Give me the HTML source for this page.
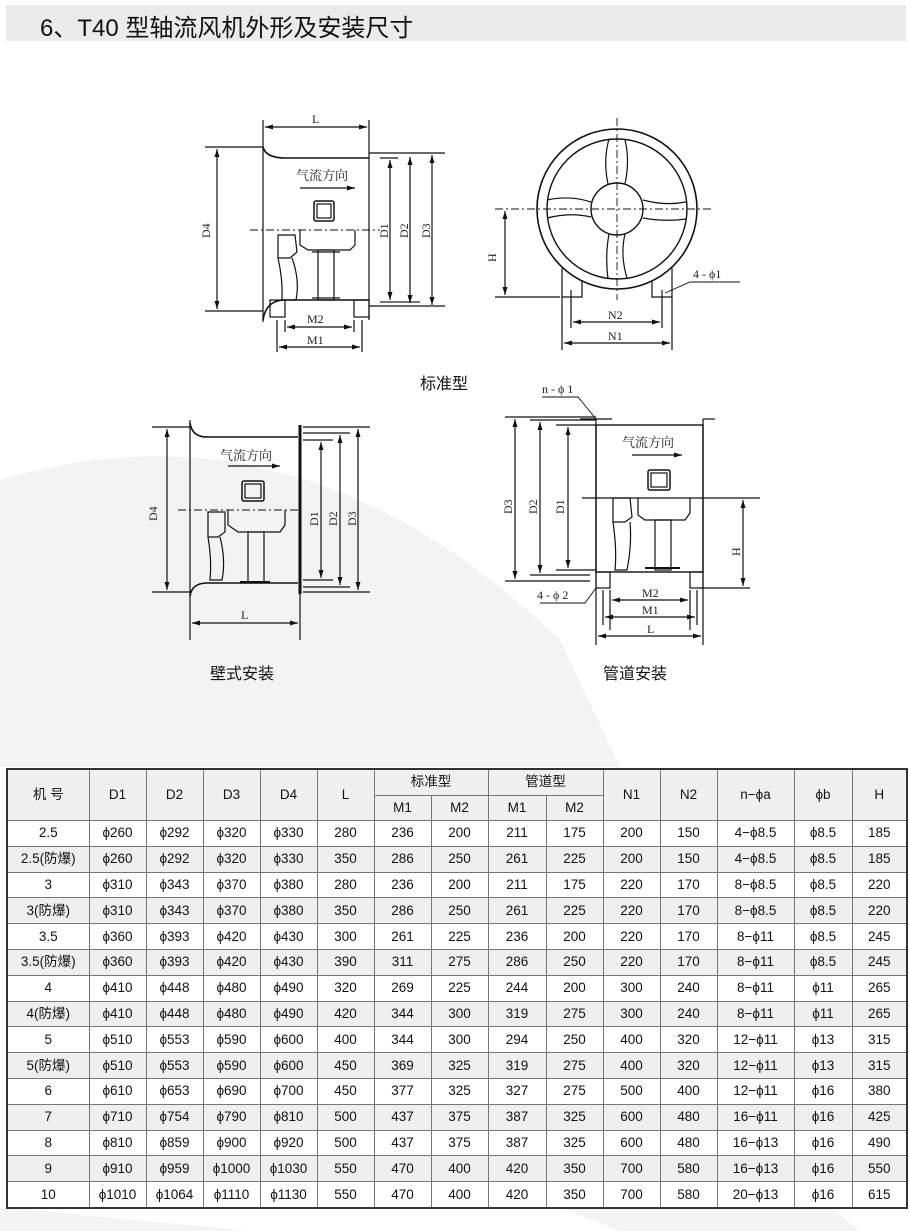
<!DOCTYPE html>
<html><head><meta charset="utf-8">
<style>
html,body{margin:0;padding:0;background:#fff;}
body{width:910px;height:1231px;position:relative;overflow:hidden;font-family:"Liberation Sans","Noto Sans CJK SC",sans-serif;}
#title{position:absolute;left:6px;top:5px;width:900px;height:36px;background:#ebebeb;}
#title span{position:absolute;left:34px;top:3px;font-size:24px;color:#111;letter-spacing:0px;}
svg{position:absolute;left:0;top:0;}
table{position:absolute;left:6px;top:768px;width:900px;border-collapse:collapse;border:2px solid #333;font-size:13.5px;color:#111;table-layout:fixed;}
td{border:1px solid #777;text-align:center;padding:0;height:24.8px;line-height:16px;white-space:nowrap;overflow:hidden;}
thead td{background:#f0f0f0;height:24.5px;}
tbody tr:nth-child(even) td{background:#efefef;}
</style></head><body>
<svg width="910" height="1231" viewBox="0 0 910 1231">
<path d="M0 480 Q300 390 560 640 L620 767 L0 767 Z" fill="#f3f3f3"/>
<path d="M0 1207 L0 1231 L250 1231 Z" fill="#f4f4f4"/>
<path d="M560 1207 L620 1231 L860 1231 L830 1207 Z" fill="#f4f4f4"/>
<g stroke="#111" fill="none" stroke-width="1.2" font-family="Liberation Serif,'Noto Serif CJK SC',serif">
<!-- Drawing 1 -->
<line x1="263" y1="120" x2="263" y2="322"/>
<line x1="369" y1="120" x2="369" y2="320"/>
<path d="M263 147 Q266 158 285 158 L369 158" stroke-width="1.6"/>
<path d="M263 320 Q266 300 285 300 L369 300" stroke-width="1.6"/>
<line x1="265" y1="127" x2="367" y2="127"/>
<line x1="205" y1="147" x2="263" y2="147"/><line x1="205" y1="311" x2="263" y2="311"/>
<line x1="217" y1="149" x2="217" y2="309"/>
<line x1="369" y1="153" x2="445" y2="153"/><line x1="380" y1="158" x2="398" y2="158"/>
<line x1="369" y1="306" x2="445" y2="306"/><line x1="380" y1="302" x2="420" y2="302" stroke="#777" stroke-width="2"/>
<line x1="390" y1="160" x2="390" y2="300"/><line x1="410" y1="157" x2="410" y2="303"/><line x1="432" y1="155" x2="432" y2="305"/>
<line x1="300" y1="188" x2="355" y2="188"/>
<rect x="314" y="201" width="20" height="20" rx="2" stroke-width="1.5"/><rect x="317" y="204" width="14" height="14"/>
<line x1="250" y1="230" x2="380" y2="230" stroke-dasharray="8 3 2 3" stroke-width="0.9"/>
<path d="M300 230 L300 245 L308 250 L350 250 L355 245 L355 230"/>
<path d="M278 235 L295 235 L297 252 L290 258 L278 258 Z"/>
<path d="M278 258 Q283 280 282 300 L296 300 Q300 280 292 258"/>
<rect x="318" y="250" width="16" height="50"/>
<line x1="312" y1="252" x2="340" y2="252"/><line x1="312" y1="298" x2="340" y2="298"/>
<rect x="270" y="300" width="15" height="17"/><rect x="354" y="300" width="15" height="17"/>
<line x1="277" y1="320" x2="277" y2="352"/><line x1="285" y1="320" x2="285" y2="332"/><line x1="354" y1="320" x2="354" y2="332"/><line x1="362" y1="320" x2="362" y2="352"/>
<line x1="287" y1="327" x2="352" y2="327"/><line x1="279" y1="347" x2="360" y2="347"/>
<!-- Drawing 2 -->
<circle cx="617" cy="209" r="80" stroke-width="1.6"/><circle cx="617" cy="209" r="70" stroke-width="1.4"/>
<circle cx="617" cy="209" r="26" stroke-width="1.4"/>
<path d="M609 139 Q603 160 608 184 M625 140 Q630 160 625 184"/>
<path d="M609 234 Q605 255 608 279 M625 234 Q620 255 627 278"/>
<path d="M547 200 Q570 195 591 202 M547 218 Q570 212 591 217"/>
<path d="M643 200 Q665 206 686 202 M643 218 Q665 222 686 219"/>
<line x1="617" y1="118" x2="617" y2="300" stroke-dasharray="8 3 2 3" stroke-width="0.9"/>
<line x1="495" y1="209" x2="712" y2="209" stroke-dasharray="8 3 2 3" stroke-width="0.9"/>
<path d="M562 268 L562 297 L582 297 L582 280"/><path d="M672 268 L672 297 L652 297 L652 280"/>
<line x1="495" y1="297" x2="560" y2="297"/><line x1="505" y1="211" x2="505" y2="295"/>
<line x1="562" y1="297" x2="562" y2="350"/><line x1="672" y1="297" x2="672" y2="350"/>
<line x1="571" y1="290" x2="571" y2="328"/><line x1="662" y1="290" x2="662" y2="328"/>
<line x1="573" y1="322" x2="660" y2="322"/><line x1="564" y1="343" x2="670" y2="343"/>
<path d="M665 293 L690 282 L740 282" stroke-width="0.9"/>
<!-- Drawing 3 -->
<line x1="190" y1="420" x2="190" y2="640"/>
<path d="M190 423 Q192 437 207 437 L298 437" stroke-width="1.6"/>
<path d="M190 596 Q192 583 207 583 L298 583" stroke-width="1.6"/>
<line x1="300" y1="425" x2="300" y2="594" stroke-width="3"/><line x1="300" y1="594" x2="300" y2="640"/>
<line x1="152" y1="427" x2="190" y2="427"/><line x1="152" y1="592" x2="190" y2="592"/>
<line x1="167" y1="429" x2="167" y2="590"/>
<line x1="303" y1="427" x2="370" y2="427"/><line x1="303" y1="433" x2="350" y2="433"/><line x1="303" y1="440" x2="333" y2="440"/>
<line x1="303" y1="580" x2="333" y2="580"/><line x1="303" y1="587" x2="350" y2="587"/><line x1="303" y1="592" x2="370" y2="592"/>
<line x1="321" y1="442" x2="321" y2="578"/><line x1="340" y1="435" x2="340" y2="585"/><line x1="358" y1="429" x2="358" y2="590"/>
<line x1="228" y1="466" x2="280" y2="466"/>
<rect x="242" y="481" width="22" height="20" rx="2" stroke-width="1.5"/><rect x="245" y="484" width="16" height="14"/>
<line x1="178" y1="510" x2="300" y2="510" stroke-dasharray="8 3 2 3" stroke-width="0.9"/>
<path d="M228 510 L228 525 L238 532 L280 532 L285 525 L285 510"/>
<path d="M208 512 L225 512 L225 532 L218 537 L208 537 Z"/>
<path d="M208 537 Q212 560 210 580 L222 580 Q226 560 220 537"/>
<rect x="248" y="532" width="16" height="50"/>
<line x1="240" y1="582" x2="270" y2="582" stroke-width="2"/>
<line x1="192" y1="623" x2="298" y2="623"/>
<!-- Drawing 4 -->
<rect x="596" y="425" width="107" height="147" stroke-width="1.4"/>
<line x1="580" y1="419" x2="612" y2="419"/><line x1="703" y1="419" x2="715" y2="419"/>
<line x1="596" y1="419" x2="596" y2="645"/><line x1="703" y1="419" x2="703" y2="645"/>
<rect x="596" y="572" width="14" height="16"/><rect x="690" y="572" width="13" height="16"/>
<path d="M542 397 L578 397 L596 419" stroke-width="0.9"/>
<line x1="505" y1="417" x2="596" y2="417"/><line x1="505" y1="581" x2="590" y2="581"/>
<line x1="530" y1="420" x2="596" y2="420"/><line x1="530" y1="575" x2="590" y2="575"/>
<line x1="556" y1="425" x2="596" y2="425"/><line x1="556" y1="570" x2="596" y2="570"/>
<line x1="515" y1="419" x2="515" y2="579"/><line x1="540" y1="422" x2="540" y2="573"/><line x1="568" y1="427" x2="568" y2="568"/>
<line x1="582" y1="498" x2="760" y2="498"/>
<line x1="700" y1="588" x2="750" y2="588"/><line x1="743" y1="500" x2="743" y2="586"/>
<line x1="632" y1="455" x2="682" y2="455"/>
<rect x="648" y="470" width="22" height="20" rx="2" stroke-width="1.5"/><rect x="651" y="473" width="16" height="14"/>
<path d="M638 498 L638 515 L645 520 L685 520 L690 513 L690 498"/>
<path d="M613 498 L630 498 L632 517 L625 522 L613 522 Z"/>
<path d="M613 522 Q617 550 615 570 L627 570 Q632 545 630 522"/>
<rect x="655" y="520" width="16" height="50"/>
<line x1="645" y1="568" x2="680" y2="568" stroke-width="2"/>
<line x1="610" y1="590" x2="610" y2="630"/><line x1="603" y1="590" x2="603" y2="625"/><line x1="690" y1="590" x2="690" y2="630"/><line x1="697" y1="590" x2="697" y2="625"/>
<line x1="612" y1="600" x2="688" y2="600"/><line x1="605" y1="617" x2="695" y2="617"/><line x1="598" y1="636" x2="701" y2="636"/>
<path d="M540 603 L585 603 L596 588" stroke-width="0.9"/>
</g>
<g fill="#111" stroke="none">
<path d="M265 127 l8 -2.5 v5z M367 127 l-8 -2.5 v5z"/>
<path d="M217 149 l-2.5 8 h5z M217 309 l-2.5 -8 h5z"/>
<path d="M390 160 l-2.5 8 h5z M390 300 l-2.5 -8 h5z M410 157 l-2.5 8 h5z M410 303 l-2.5 -8 h5z M432 155 l-2.5 8 h5z M432 305 l-2.5 -8 h5z"/>
<path d="M355 188 l-8 -2.5 v5z"/>
<path d="M287 327 l8 -2.5 v5z M352 327 l-8 -2.5 v5z M279 347 l8 -2.5 v5z M360 347 l-8 -2.5 v5z"/>
<path d="M505 211 l-2.5 8 h5z M505 295 l-2.5 -8 h5z"/>
<path d="M573 322 l8 -2.5 v5z M660 322 l-8 -2.5 v5z M564 343 l8 -2.5 v5z M670 343 l-8 -2.5 v5z"/>
<path d="M167 429 l-2.5 8 h5z M167 590 l-2.5 -8 h5z"/>
<path d="M321 442 l-2.5 8 h5z M321 578 l-2.5 -8 h5z M340 435 l-2.5 8 h5z M340 585 l-2.5 -8 h5z M358 429 l-2.5 8 h5z M358 590 l-2.5 -8 h5z"/>
<path d="M280 466 l-8 -2.5 v5z M192 623 l8 -2.5 v5z M298 623 l-8 -2.5 v5z"/>
<path d="M515 419 l-2.5 8 h5z M515 579 l-2.5 -8 h5z M540 422 l-2.5 8 h5z M540 573 l-2.5 -8 h5z M568 427 l-2.5 8 h5z M568 568 l-2.5 -8 h5z"/>
<path d="M743 500 l-2.5 8 h5z M743 586 l-2.5 -8 h5z M682 455 l-8 -2.5 v5z"/>
<path d="M612 600 l8 -2.5 v5z M688 600 l-8 -2.5 v5z M605 617 l8 -2.5 v5z M695 617 l-8 -2.5 v5z M598 636 l8 -2.5 v5z M701 636 l-8 -2.5 v5z"/>
</g>
<g fill="#222" font-family="'Liberation Serif','Noto Serif CJK SC',serif" font-size="12">
<text x="312" y="123">L</text>
<text x="296" y="180" font-size="13">气流方向</text>
<text transform="translate(210,238) rotate(-90)">D4</text>
<text transform="translate(388,238) rotate(-90)">D1</text>
<text transform="translate(408,238) rotate(-90)">D2</text>
<text transform="translate(430,238) rotate(-90)">D3</text>
<text x="307" y="323">M2</text><text x="307" y="344">M1</text>
<text transform="translate(496,262) rotate(-90)">H</text>
<text x="608" y="319">N2</text><text x="608" y="340">N1</text>
<text x="693" y="278">4 - ϕ1</text>
<text transform="translate(157,521) rotate(-90)">D4</text>
<text transform="translate(318,526) rotate(-90)">D1</text>
<text transform="translate(337,526) rotate(-90)">D2</text>
<text transform="translate(356,526) rotate(-90)">D3</text>
<text x="220" y="460" font-size="13">气流方向</text>
<text x="241" y="619">L</text>
<text x="542" y="393">n - ϕ 1</text>
<text transform="translate(512,514) rotate(-90)">D3</text>
<text transform="translate(537,514) rotate(-90)">D2</text>
<text transform="translate(564,514) rotate(-90)">D1</text>
<text transform="translate(740,556) rotate(-90)">H</text>
<text x="622" y="447" font-size="13">气流方向</text>
<text x="537" y="599">4 - ϕ 2</text>
<text x="642" y="597">M2</text><text x="642" y="614">M1</text><text x="647" y="633">L</text>
</g>
<g fill="#111" font-family="'Liberation Sans','Noto Sans CJK SC',sans-serif" font-size="16">
<text x="420" y="389">标准型</text>
<text x="210" y="679">壁式安装</text>
<text x="603" y="679">管道安装</text>
</g>
</svg>
<div id="title"><span>6、T40 型轴流风机外形及安装尺寸</span></div>
<table>
<colgroup><col style="width:82px"><col style="width:57px"><col style="width:57px"><col style="width:57px"><col style="width:57px"><col style="width:57px"><col style="width:57px"><col style="width:57px"><col style="width:58px"><col style="width:57px"><col style="width:57px"><col style="width:57px"><col style="width:77px"><col style="width:58px"><col style="width:55px"></colgroup>
<thead>
<tr><td rowspan="2">机 号</td><td rowspan="2">D1</td><td rowspan="2">D2</td><td rowspan="2">D3</td><td rowspan="2">D4</td><td rowspan="2">L</td><td colspan="2">标准型</td><td colspan="2">管道型</td><td rowspan="2">N1</td><td rowspan="2">N2</td><td rowspan="2">n−ϕa</td><td rowspan="2">ϕb</td><td rowspan="2">H</td></tr>
<tr><td>M1</td><td>M2</td><td>M1</td><td>M2</td></tr>
</thead>
<tbody>
<tr><td>2.5</td><td>ϕ260</td><td>ϕ292</td><td>ϕ320</td><td>ϕ330</td><td>280</td><td>236</td><td>200</td><td>211</td><td>175</td><td>200</td><td>150</td><td>4−ϕ8.5</td><td>ϕ8.5</td><td>185</td></tr>
<tr><td>2.5(防爆)</td><td>ϕ260</td><td>ϕ292</td><td>ϕ320</td><td>ϕ330</td><td>350</td><td>286</td><td>250</td><td>261</td><td>225</td><td>200</td><td>150</td><td>4−ϕ8.5</td><td>ϕ8.5</td><td>185</td></tr>
<tr><td>3</td><td>ϕ310</td><td>ϕ343</td><td>ϕ370</td><td>ϕ380</td><td>280</td><td>236</td><td>200</td><td>211</td><td>175</td><td>220</td><td>170</td><td>8−ϕ8.5</td><td>ϕ8.5</td><td>220</td></tr>
<tr><td>3(防爆)</td><td>ϕ310</td><td>ϕ343</td><td>ϕ370</td><td>ϕ380</td><td>350</td><td>286</td><td>250</td><td>261</td><td>225</td><td>220</td><td>170</td><td>8−ϕ8.5</td><td>ϕ8.5</td><td>220</td></tr>
<tr><td>3.5</td><td>ϕ360</td><td>ϕ393</td><td>ϕ420</td><td>ϕ430</td><td>300</td><td>261</td><td>225</td><td>236</td><td>200</td><td>220</td><td>170</td><td>8−ϕ11</td><td>ϕ8.5</td><td>245</td></tr>
<tr><td>3.5(防爆)</td><td>ϕ360</td><td>ϕ393</td><td>ϕ420</td><td>ϕ430</td><td>390</td><td>311</td><td>275</td><td>286</td><td>250</td><td>220</td><td>170</td><td>8−ϕ11</td><td>ϕ8.5</td><td>245</td></tr>
<tr><td>4</td><td>ϕ410</td><td>ϕ448</td><td>ϕ480</td><td>ϕ490</td><td>320</td><td>269</td><td>225</td><td>244</td><td>200</td><td>300</td><td>240</td><td>8−ϕ11</td><td>ϕ11</td><td>265</td></tr>
<tr><td>4(防爆)</td><td>ϕ410</td><td>ϕ448</td><td>ϕ480</td><td>ϕ490</td><td>420</td><td>344</td><td>300</td><td>319</td><td>275</td><td>300</td><td>240</td><td>8−ϕ11</td><td>ϕ11</td><td>265</td></tr>
<tr><td>5</td><td>ϕ510</td><td>ϕ553</td><td>ϕ590</td><td>ϕ600</td><td>400</td><td>344</td><td>300</td><td>294</td><td>250</td><td>400</td><td>320</td><td>12−ϕ11</td><td>ϕ13</td><td>315</td></tr>
<tr><td>5(防爆)</td><td>ϕ510</td><td>ϕ553</td><td>ϕ590</td><td>ϕ600</td><td>450</td><td>369</td><td>325</td><td>319</td><td>275</td><td>400</td><td>320</td><td>12−ϕ11</td><td>ϕ13</td><td>315</td></tr>
<tr><td>6</td><td>ϕ610</td><td>ϕ653</td><td>ϕ690</td><td>ϕ700</td><td>450</td><td>377</td><td>325</td><td>327</td><td>275</td><td>500</td><td>400</td><td>12−ϕ11</td><td>ϕ16</td><td>380</td></tr>
<tr><td>7</td><td>ϕ710</td><td>ϕ754</td><td>ϕ790</td><td>ϕ810</td><td>500</td><td>437</td><td>375</td><td>387</td><td>325</td><td>600</td><td>480</td><td>16−ϕ11</td><td>ϕ16</td><td>425</td></tr>
<tr><td>8</td><td>ϕ810</td><td>ϕ859</td><td>ϕ900</td><td>ϕ920</td><td>500</td><td>437</td><td>375</td><td>387</td><td>325</td><td>600</td><td>480</td><td>16−ϕ13</td><td>ϕ16</td><td>490</td></tr>
<tr><td>9</td><td>ϕ910</td><td>ϕ959</td><td>ϕ1000</td><td>ϕ1030</td><td>550</td><td>470</td><td>400</td><td>420</td><td>350</td><td>700</td><td>580</td><td>16−ϕ13</td><td>ϕ16</td><td>550</td></tr>
<tr><td>10</td><td>ϕ1010</td><td>ϕ1064</td><td>ϕ1110</td><td>ϕ1130</td><td>550</td><td>470</td><td>400</td><td>420</td><td>350</td><td>700</td><td>580</td><td>20−ϕ13</td><td>ϕ16</td><td>615</td></tr>
</tbody>
</table>
</body></html>
